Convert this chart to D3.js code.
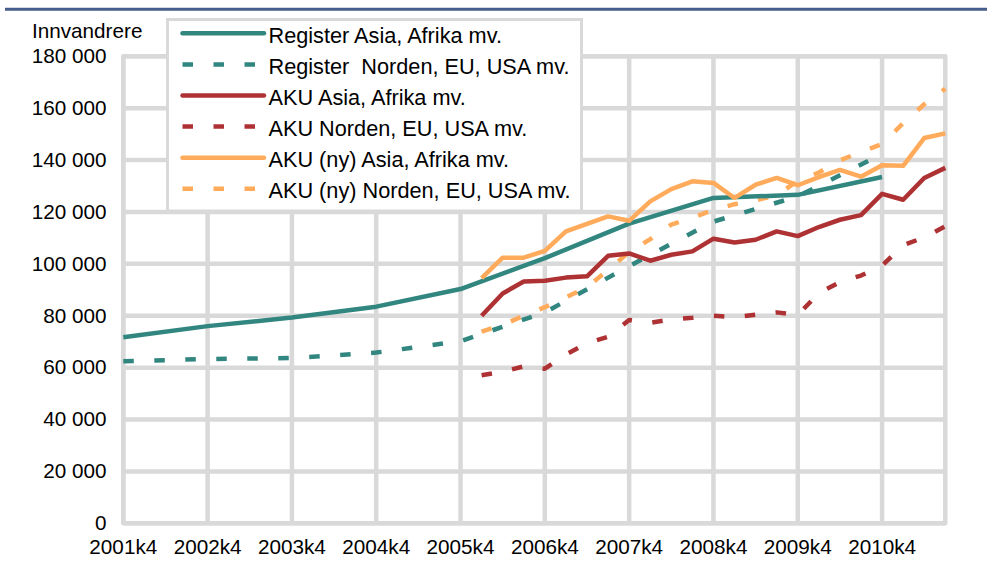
<!DOCTYPE html>
<html><head><meta charset="utf-8">
<script src="https://cdn.jsdelivr.net/npm/d3@7"></script>
<style>
html,body{margin:0;padding:0;background:#fff;}
svg{display:block;font-family:"Liberation Sans",Arial,sans-serif;}
</style></head>
<body>
<svg id="chart" width="987" height="574"></svg>
<script>
const quarters = [
 "2001k4","2002k1","2002k2","2002k3","2002k4","2003k1","2003k2","2003k3","2003k4",
 "2004k1","2004k2","2004k3","2004k4","2005k1","2005k2","2005k3","2005k4",
 "2006k1","2006k2","2006k3","2006k4","2007k1","2007k2","2007k3","2007k4",
 "2008k1","2008k2","2008k3","2008k4","2009k1","2009k2","2009k3","2009k4",
 "2010k1","2010k2","2010k3","2010k4","2011k1","2011k2","2011k3"];
const xTickLabels = ["2001k4","2002k4","2003k4","2004k4","2005k4","2006k4","2007k4","2008k4","2009k4","2010k4"];
const yTicks = [0,20000,40000,60000,80000,100000,120000,140000,160000,180000];

const registerQuarters = ["2001k4","2002k4","2003k4","2004k4","2005k4","2006k4","2007k4","2008k4","2009k4","2010k4"];
const registerAsia   = [71700,76000,79300,83500,90300,102200,115500,125400,126600,133500];
const registerNorden = [62500,63300,63700,65800,70200,81300,99100,116300,126000,142300];

const akuQuarters = ["2006k1","2006k2","2006k3","2006k4","2007k1","2007k2","2007k3","2007k4",
 "2008k1","2008k2","2008k3","2008k4","2009k1","2009k2","2009k3","2009k4",
 "2010k1","2010k2","2010k3","2010k4","2011k1","2011k2","2011k3"];
const akuAsia = [80000,88600,93200,93500,94700,95200,103100,104000,101200,103500,104800,109700,
 108200,109300,112500,110700,114200,117000,118800,127000,124700,133100,137000];
const akuNorden = [57100,58400,60500,59600,65100,69400,71900,78400,77300,78600,79200,80000,
 79500,80400,81300,80300,88700,93000,95500,99300,107200,110200,114500];
const akuNyAsia = [94500,102400,102400,105000,112500,115400,118300,116600,124100,128800,131800,131200,
 125400,130500,133100,130300,133400,136200,133600,138000,137800,148500,150300];
const akuNyNorden = [73900,76500,80000,83300,87100,91000,97700,104500,109500,115100,117800,120800,
 123000,124500,126500,132000,135200,139900,143100,146200,154200,161500,167500];

const seriesNames = ["Register Asia, Afrika mv.","Register  Norden, EU, USA mv.","AKU Asia, Afrika mv.",
 "AKU Norden, EU, USA mv.","AKU (ny) Asia, Afrika mv.","AKU (ny) Norden, EU, USA mv."];
const seriesColors = ["#31867f","#31867f","#ae3233","#ae3233","#ffab5b","#ffab5b"];
const seriesDashed = [false,true,false,true,false,true];

const svg = d3.select("#chart");
const pLeft = 123.3, pRight = 945.3, pTop = 56.3, pBottom = 523.3;
const x = d3.scalePoint().domain(quarters).range([pLeft, pRight]);
const y = d3.scaleLinear().domain([0,180000]).range([pBottom, pTop]);
const grid = "#d9d9d9";
const fontSize = 20.7;
const legendFontSize = 21.7;

// top rule
svg.append("line").attr("x1",5).attr("x2",987).attr("y1",9.3).attr("y2",9.3)
  .attr("stroke","#475e8c").attr("stroke-width",3);

// gridlines
const g = svg.append("g");
g.selectAll(".hg").data(yTicks).join("line")
  .attr("x1",pLeft).attr("x2",pRight).attr("y1",d=>y(d)).attr("y2",d=>y(d))
  .attr("stroke",grid).attr("stroke-width",4.5);
g.selectAll(".vg").data(xTickLabels).join("line")
  .attr("x1",d=>x(d)).attr("x2",d=>x(d)).attr("y1",pTop).attr("y2",pBottom)
  .attr("stroke",grid).attr("stroke-width",4.5);
g.append("rect").attr("x",pLeft).attr("y",pTop).attr("width",pRight-pLeft).attr("height",pBottom-pTop)
  .attr("fill","none").attr("stroke",grid).attr("stroke-width",4.5).attr("stroke-linejoin","round");

// axes labels
const fmt = v => d3.format(",")(v).replace(/,/g," ");
svg.append("g").selectAll("text").data(yTicks).join("text")
  .attr("x",106.5).attr("y",d=>y(d)).attr("dy","0.33em").attr("text-anchor","end")
  .attr("font-size",fontSize).attr("fill","#000").text(fmt);
svg.append("g").selectAll("text").data(xTickLabels).join("text")
  .attr("x",d=>x(d)).attr("y",554).attr("text-anchor","middle")
  .attr("font-size",fontSize).attr("fill","#000").text(d=>d);
svg.append("text").attr("x",32).attr("y",37.5).attr("font-size",fontSize).attr("fill","#000").text("Innvandrere");

// series
const seriesData = [
  registerQuarters.map((q,i)=>[q,registerAsia[i]]),
  registerQuarters.map((q,i)=>[q,registerNorden[i]]),
  akuQuarters.map((q,i)=>[q,akuAsia[i]]),
  akuQuarters.map((q,i)=>[q,akuNorden[i]]),
  akuQuarters.map((q,i)=>[q,akuNyAsia[i]]),
  akuQuarters.map((q,i)=>[q,akuNyNorden[i]])
];
const line = d3.line().x(d=>x(d[0])).y(d=>y(d[1]));
const drawOrder = [1,3,5,0,2,4];
drawOrder.forEach(i=>{
  svg.append("path").datum(seriesData[i]).attr("d",line)
    .attr("fill","none").attr("stroke",seriesColors[i]).attr("stroke-width",4.5)
    .attr("stroke-linejoin","round")
    .attr("stroke-dasharray",seriesDashed[i]?"10.5,20.5":null);
});

// legend
const lg = svg.append("g");
lg.append("rect").attr("x",167.5).attr("y",19.5).attr("width",414).attr("height",191.5)
  .attr("fill","#fff").attr("stroke",grid).attr("stroke-width",3);
seriesNames.forEach((name,i)=>{
  const ry = 33.3 + 31.1*i;
  lg.append("line").attr("x1",182.5).attr("x2",264).attr("y1",ry).attr("y2",ry)
    .attr("stroke",seriesColors[i]).attr("stroke-width",4.5)
    .attr("stroke-linecap",seriesDashed[i]?"butt":"round")
    .attr("stroke-dasharray",seriesDashed[i]?"10.5,20.5":null);
  lg.append("text").attr("x",268.5).attr("y",ry+9.6).attr("font-size",legendFontSize)
    .attr("fill","#000").attr("xml:space","preserve").style("white-space","pre").text(name);
});
</script>
</body></html>
